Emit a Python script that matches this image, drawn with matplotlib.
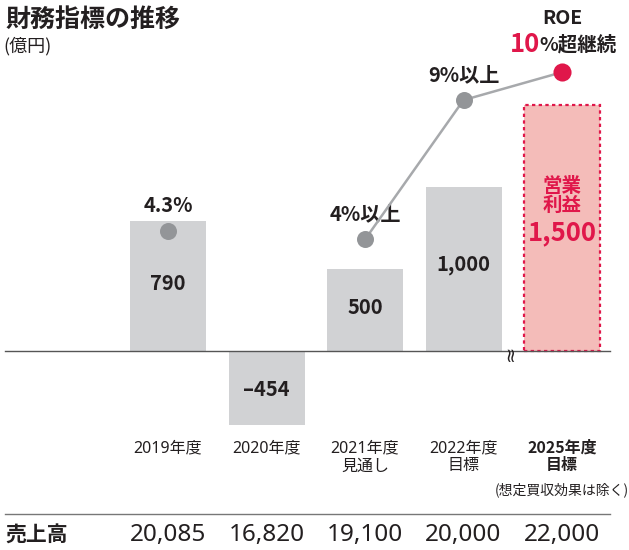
import matplotlib.pyplot as plt
import numpy as np

plt.rcParams['font.family'] = ['Noto Sans', 'Noto Sans CJK JP', 'DejaVu Sans']
BOLD_FAM = ['Noto Sans CJK JP', 'DejaVu Sans']

# data
years = ["2019年度", "2020年度", "2021年度\n見通し", "2022年度\n目標", "2025年度\n目標"]
profit = [790, -454, 500, 1000, 1500]
profit_labels = ["790", "–454", "500", "1,000", "1,500"]
roe_x = [0, 2, 3, 4]
roe = [4.3, 4.0, 9.0, 10.0]
roe_labels = ["4.3%", "4%以上", "9%以上"]
sales = ["20,085", "16,820", "19,100", "20,000", "22,000"]

DARK = "#231f20"
GRAY_BAR = "#d1d2d4"
GRAY_DOT = "#939598"
GRAY_LINE = "#a7a9ac"
RED = "#e0174a"
PINK = "#f4bcb9"

W, H = 629, 550
fig = plt.figure(figsize=(W / 100, H / 100), dpi=100)
ax = fig.add_axes([0, 0, 1, 1])

# pixel mapping: bar centers 168..562, baseline at y=351, 0.164 px per 億円
px_per_x = 98.5
px_per_v = 0.164
ax.set_xlim((0 - 168) / px_per_x, (W - 168) / px_per_x)
ax.set_ylim(-(H - 351) / px_per_v, 351 / px_per_v)
ax.axis("off")


def py(p):
    # pixel row -> data y
    return (351 - p) / px_per_v


def px(p):
    # pixel column -> data x
    return (p - 168) / px_per_x


def btext(xx, yy, s, **kw):
    kw.setdefault("color", DARK)
    return ax.text(xx, yy, s, ha=kw.pop("ha", "center"), va=kw.pop("va", "center"),
                   fontweight="bold", family=BOLD_FAM, **kw)


x = np.arange(len(profit))
bw = 76 / px_per_x
ax.bar(x[:4], profit[:4], width=bw, color=GRAY_BAR, zorder=1)
ax.bar(x[4], profit[4], width=bw, color=PINK, edgecolor=RED, linewidth=1.6,
       linestyle=(0, (1.5, 1.5)), zorder=1)

# baseline with break mark
ax.plot([px(5), px(610)], [0, 0], color="#555555", lw=1, zorder=2)
ax.text(px(510), py(353), "≈", rotation=90, ha="center", va="center",
        fontsize=14, color=DARK, family=["DejaVu Sans"], zorder=3)

# bar labels
label_y = [284, 389, 308, 265]
for i in range(4):
    btext(x[i], py(label_y[i]), profit_labels[i], fontsize=14.5)
btext(x[4], py(196), "営業\n利益", fontsize=14, color=RED, linespacing=1.05)
btext(x[4], py(233), profit_labels[4], fontsize=18.5, color=RED)

# ROE on its own scale (0 % at baseline)
ax2 = ax.twinx()
ax2.set_ylim(np.array(ax.get_ylim()) / 170)
ax2.axis("off")
ax2.plot(roe_x[1:], roe[1:], color=GRAY_LINE, lw=1.8, zorder=3)
ax2.scatter(roe_x[:3], roe[:3], s=150, color=GRAY_DOT, zorder=4, linewidths=0)
ax2.scatter(roe_x[3:], roe[3:], s=170, color=RED, zorder=4, linewidths=0)
roe_lab_y = [206, 214, 75]
for xi, lab, p in zip(roe_x[:3], roe_labels, roe_lab_y):
    btext(xi, py(p), lab, fontsize=14.5)
btext(x[4], py(19), "ROE", fontsize=14)
btext(px(540), py(45), "10", ha="right", fontsize=18.5, color=RED)
btext(px(539), py(45), "%超継続", ha="left", fontsize=14)

# title
fig.text(5 / W, 1 - 20 / H, "財務指標の推移", ha="left", va="center", fontsize=18,
         fontweight="bold", family=BOLD_FAM, color=DARK)
fig.text(3 / W, 1 - 46 / H, "(億円)", ha="left", va="center", fontsize=13,
         family=BOLD_FAM, color=DARK)

# category labels
for i, lab in enumerate(years[:4]):
    ax.text(x[i], py(440), lab, ha="center", va="top", fontsize=11.5,
            color=DARK, linespacing=1.2)
btext(x[4], py(440), years[4], va="top", fontsize=11.5, linespacing=1.1)
ax.text(x[4], py(490), "(想定買収効果は除く)", ha="center", va="center", fontsize=10,
        family=BOLD_FAM, color=DARK)

# sales row
ax.plot([px(5), px(610)], [py(514), py(514)], color="#777777", lw=1)
btext(px(5), py(535), "売上高", ha="left", fontsize=15)
for i, s in enumerate(sales):
    ax.text(x[i], py(535), s, ha="center", va="center", fontsize=17.5, color=DARK)

fig.savefig("out.png", dpi=100)
